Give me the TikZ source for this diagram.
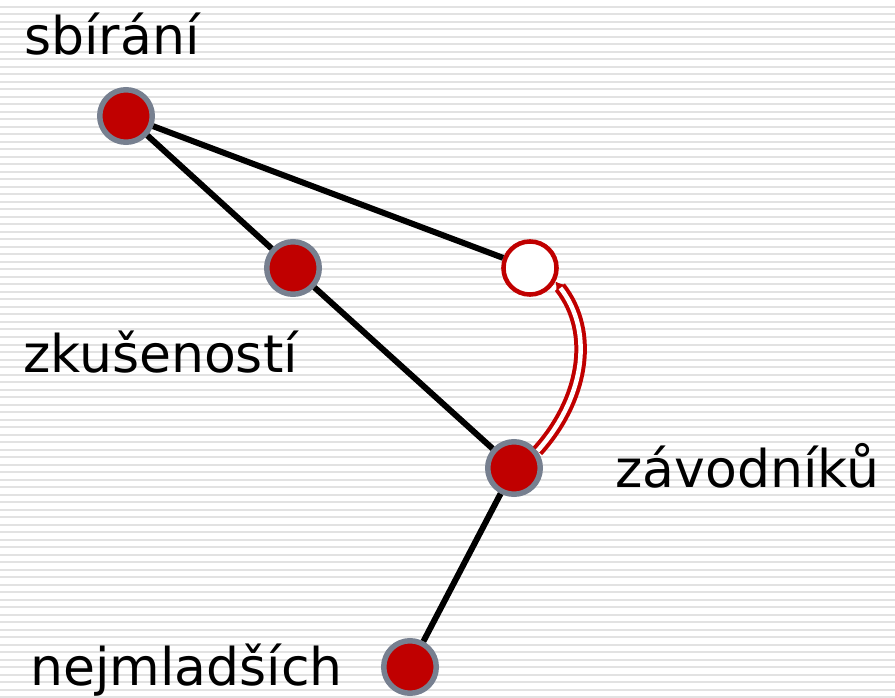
\documentclass[tikz,border=0pt]{standalone}
\usepackage{fontspec}
\setmainfont{DejaVu Sans}
\usetikzlibrary{arrows.meta}
\definecolor{dotred}{HTML}{C00000}
\definecolor{ringgray}{HTML}{778090}
\definecolor{stripegray}{HTML}{E2E2E2}
\tikzset{
  dot/.style={circle, fill=dotred, draw=ringgray, line width=4.1pt, minimum size=39.4pt, inner sep=0pt},
  opendot/.style={circle, fill=white, draw=dotred, line width=3.4pt, minimum size=39.8pt, inner sep=0pt},
  word/.style={anchor=base west, inner sep=0pt, font=\fontsize{39}{47}\selectfont},
  link/.style={line width=4.5pt, black},
}
\begin{document}
\begin{tikzpicture}[x=0.75pt, y=-0.75pt]
  \useasboundingbox (0,0) rectangle (895,698);
  \fill[white] (0,0) rectangle (895,698);
  \foreach \i in {0,...,93}
    \fill[stripegray] (0,{\i*7.5-1.5}) rectangle ++(895,2);
  \node[dot] (sbirani) at (126,116) {};
  \node[dot] (zkusenosti) at (293,268) {};
  \node[opendot] (volny) at (530,268) {};
  \node[dot] (zavodniku) at (514,468) {};
  \node[dot] (nejmladsich) at (410,667) {};
  \node[word] (l-sbirani) at (24,55) {sbírání};
  \node[word] (l-zkusenosti) at (23,372) {zkušeností};
  \node[word] (l-zavodniku) at (615,487) {závodníků};
  \node[word] (l-nejmladsich) at (30,685) {nejmladších};
  \draw[link] (sbirani) -- (zkusenosti);
  \draw[link] (sbirani) -- (volny);
  \draw[link] (zkusenosti) -- (zavodniku);
  \draw[link] (zavodniku) -- (nejmladsich);
  \draw[dotred, line width=3pt, double=white, double distance=3.4pt, -{Latex[length=6pt, width=8pt]}]
    (zavodniku.36) to[out=48, in=-52] (volny.-28);
\end{tikzpicture}
\end{document}
